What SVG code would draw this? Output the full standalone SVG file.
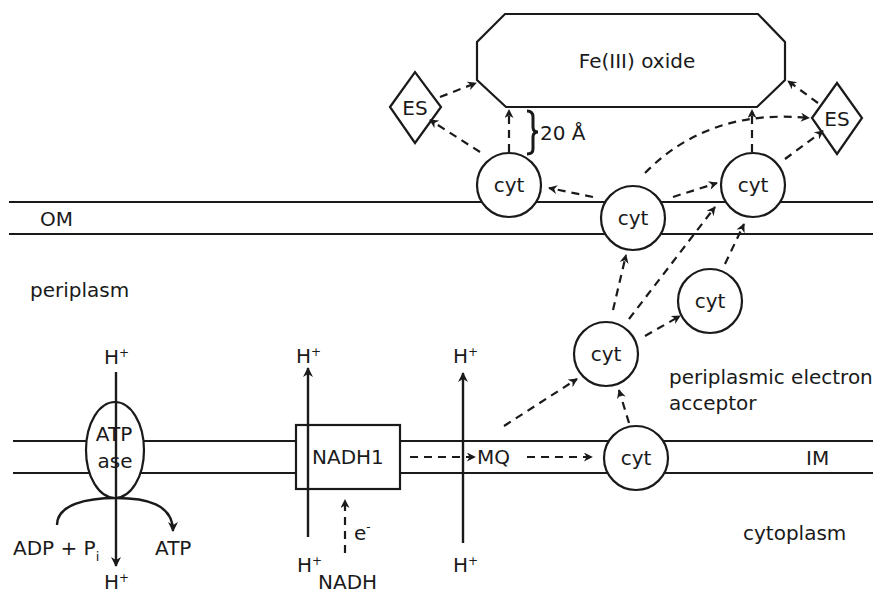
<svg xmlns="http://www.w3.org/2000/svg" width="880" height="596" viewBox="0 0 880 596">
<defs>
<style>
text{font-family:"DejaVu Sans","Liberation Sans",sans-serif;font-size:20px;fill:#1a1a1a}
.mem{stroke:#1a1a1a;stroke-width:2.2;fill:none}
.shape{stroke:#1a1a1a;stroke-width:2.2;fill:#fff}
.dash{stroke:#1a1a1a;stroke-width:2.2;fill:none;stroke-dasharray:8 6;marker-end:url(#ah)}
.solid{stroke:#1a1a1a;stroke-width:2.4;fill:none;marker-end:url(#ah2)}
.c{text-anchor:middle}
.sup{font-size:12px}
</style>
<marker id="ah" viewBox="0 0 10 10" refX="9" refY="5" markerUnits="userSpaceOnUse" markerWidth="10" markerHeight="9" orient="auto">
<path d="M0,0 L10,5 L0,10 L3,5 z" fill="#1a1a1a"/>
</marker>
<marker id="ah2" viewBox="0 0 10 10" refX="9" refY="5" markerUnits="userSpaceOnUse" markerWidth="12" markerHeight="10" orient="auto">
<path d="M0,0 L10,5 L0,10 L3,5 z" fill="#1a1a1a"/>
</marker>
</defs>
<rect width="880" height="596" fill="#fff"/>

<g id="membranes">
<line class="mem" x1="9" y1="202" x2="873" y2="202"/>
<line class="mem" x1="9" y1="234" x2="873" y2="234"/>
<line class="mem" x1="13" y1="441" x2="873" y2="441"/>
<line class="mem" x1="13" y1="473" x2="873" y2="473"/>
</g>

<g id="labels">
<text x="40" y="226">OM</text>
<text x="30" y="297">periplasm</text>
<text x="806" y="465">IM</text>
<text x="743" y="540">cytoplasm</text>
<text x="669" y="384">periplasmic electron</text>
<text x="669" y="410">acceptor</text>
<text x="540" y="140">20 Å</text>
<path d="M527,111 Q533,111 533,117 L533,127 Q533,132 538,132 Q533,132 533,137 L533,149 Q533,154 527,154" fill="none" stroke="#1a1a1a" stroke-width="3"/>
</g>

<g id="feoxide">
<polygon class="shape" points="505,14 758,14 785,42 785,80 757,107 506,107 477,80 477,42"/>
<text class="c" x="637" y="68">Fe(III) oxide</text>
</g>

<g id="es-left">
<polygon class="shape" points="390,107 415,72 441,107 415,143"/>
<text class="c" x="415" y="115">ES</text>
</g>
<g id="es-right">
<polygon class="shape" points="812,118 837,83 862,118 837,154"/>
<text class="c" x="837" y="126">ES</text>
</g>

<g id="connectors">
<path class="dash" d="M410,457 L475,457"/>
<path class="dash" d="M527,457 L592,457"/>
<path class="dash" d="M504,426 L577,379"/>
<path class="dash" d="M629,423 L619,390"/>
<path class="dash" d="M645,336 L680,316"/>
<path class="dash" d="M613,310 L626,255"/>
<path class="dash" d="M629,319 L715,207"/>
<path class="dash" d="M725,264 L744,224"/>
<path class="dash" d="M593,197 L549,188"/>
<path class="dash" d="M673,197 L717,183"/>
<path class="dash" d="M645,173 Q709,108 809,118"/>
<path class="dash" d="M509,152 L509,110"/>
<path class="dash" d="M480,152 L430,120"/>
<path class="dash" d="M440,97 L476,83"/>
<path class="dash" d="M752,152 L752,110"/>
<path class="dash" d="M785,159 L823,131"/>
<path class="dash" d="M818,103 L788,81"/>
<path class="dash" d="M345,553 L345,500"/>
<path class="solid" d="M57,525 C57,504 88,498 116,498 C146,498 173,504 173,531"/>
</g>

<g id="cyt-om-left">
<circle class="shape" cx="509" cy="185" r="32"/>
<text class="c" x="509" y="192">cyt</text>
</g>
<g id="cyt-om-mid">
<circle class="shape" cx="633" cy="218" r="32"/>
<text class="c" x="633" y="225">cyt</text>
</g>
<g id="cyt-om-right">
<circle class="shape" cx="753" cy="185" r="32"/>
<text class="c" x="753" y="192">cyt</text>
</g>
<g id="cyt-peri-right">
<circle class="shape" cx="710" cy="301" r="32"/>
<text class="c" x="710" y="308">cyt</text>
</g>
<g id="cyt-peri">
<circle class="shape" cx="606" cy="354" r="32"/>
<text class="c" x="606" y="361">cyt</text>
</g>
<g id="cyt-im">
<circle class="shape" cx="636" cy="458" r="32"/>
<text class="c" x="636" y="465">cyt</text>
</g>

<g id="atpase">
<ellipse class="shape" cx="115" cy="450" rx="29" ry="48"/>
<path class="solid" d="M116,372 L116,566"/>
<text class="c" x="114" y="441">ATP</text>
<text class="c" x="115" y="468">ase</text>
<text x="104" y="364">H<tspan class="sup" dy="-7">+</tspan></text>
<text x="104" y="589">H<tspan class="sup" dy="-7">+</tspan></text>
<text x="13" y="555">ADP + P<tspan font-size="13" dy="6">i</tspan></text>
<text x="155" y="555">ATP</text>
</g>

<g id="nadh1">
<rect class="shape" x="296" y="425" width="104" height="64"/>
<path class="solid" d="M308,537 L308,368"/>
<text x="312" y="464">NADH1</text>
<text x="296" y="363">H<tspan class="sup" dy="-7">+</tspan></text>
<text x="297" y="572">H<tspan class="sup" dy="-7">+</tspan></text>
<text x="354" y="540">e<tspan class="sup" dy="-9">-</tspan></text>
<text x="318" y="589">NADH</text>
</g>

<g id="proton-channel">
<path class="solid" d="M463,543 L463,373"/>
<text x="453" y="363">H<tspan class="sup" dy="-7">+</tspan></text>
<text x="453" y="572">H<tspan class="sup" dy="-7">+</tspan></text>
</g>

<g id="mq">
<text x="477" y="464">MQ</text>
</g>
</svg>
